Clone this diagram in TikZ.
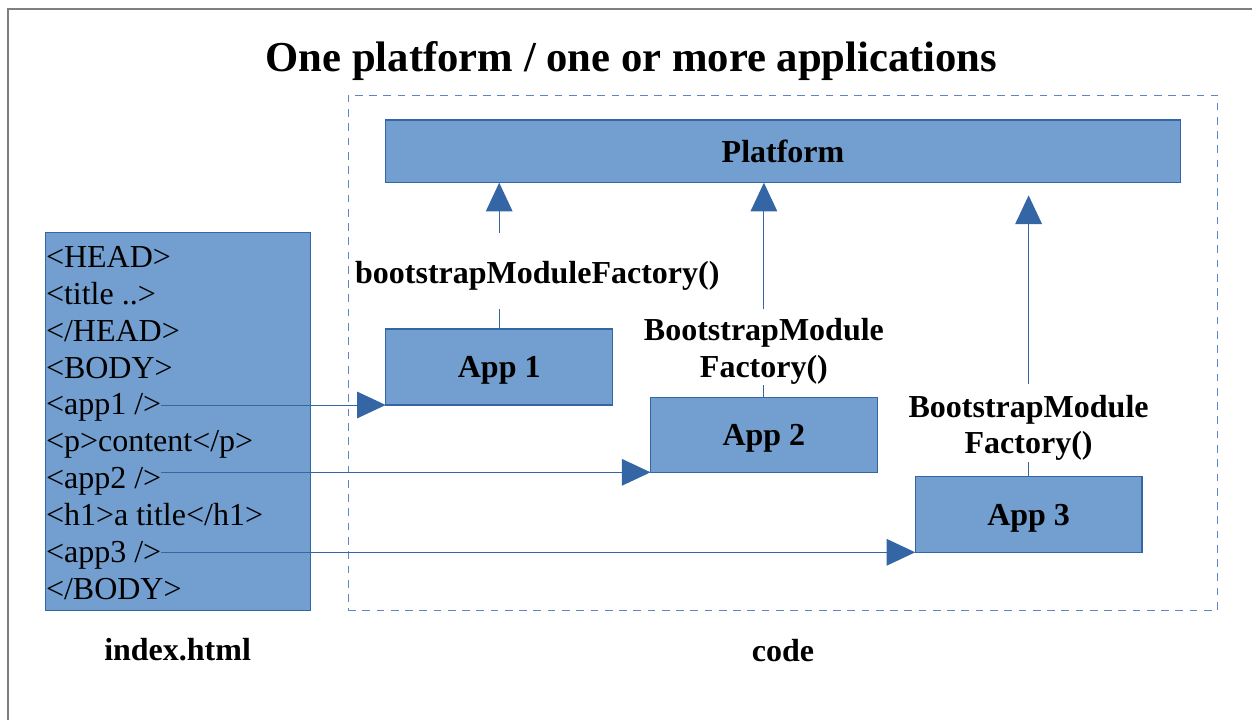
\documentclass[tikz,border=0pt]{standalone}
\usepackage{fontspec}
\setmainfont{Liberation Serif}
\usetikzlibrary{arrows.meta}
\definecolor{boxfill}{HTML}{729FCF}
\definecolor{boxline}{HTML}{3465A4}
\definecolor{dashline}{HTML}{5B87C9}
\definecolor{framegray}{HTML}{7F7F7F}
\begin{document}
\begin{tikzpicture}[x=0.75pt,y=-0.75pt,
  box/.style={draw=boxline,fill=boxfill,line width=0.9pt,inner sep=0pt,outer sep=0pt,
    text depth=0pt,font=\fontsize{24pt}{28pt}\selectfont\bfseries},
  lbl/.style={inner sep=0pt,outer sep=0pt,align=center,
    font=\fontsize{24pt}{27.5pt}\selectfont\bfseries},
  htmlline/.style={anchor=base west,inner sep=0pt,outer sep=0pt,
    font=\fontsize{24pt}{28pt}\selectfont},
  conn/.style={draw=boxline,line width=0.75pt},
  tip/.style={-{Triangle[length=21.5pt,width=20pt]}}]
\useasboundingbox (0,0) rectangle (1252,720);
\begin{scope}
\clip (0,0) rectangle (1252,720);
\draw[framegray,line width=1.5pt] (7.7,9) rectangle (1300,800);
\end{scope}
% title
\node[anchor=base,inner sep=0pt,font=\fontsize{32pt}{36pt}\selectfont\bfseries] (title) at (631.5,71.7) {One platform / one or more applications};
% code container
\node[draw=dashline,dash pattern=on 5.8pt off 4.9pt,line width=0.75pt,
  minimum width=652.1pt,minimum height=386.6pt,inner sep=0pt,outer sep=0pt] (codebox) at (782.75,352.75) {};
% index.html box
\node[draw=boxline,fill=boxfill,line width=0.9pt,minimum width=198.75pt,minimum height=283.6pt,
  inner sep=0pt,outer sep=0pt] (html) at (178,421.6) {};
\node[htmlline] (h1) at (46,267.3) {<HEAD>};
\node[htmlline] (h2) at (46,304.2) {<title ..>};
\node[htmlline] (h3) at (46,341.1) {</HEAD>};
\node[htmlline] (h4) at (46,378.0) {<BODY>};
\node[htmlline] (h5) at (46,414.9) {<app1 />};
\node[htmlline] (h6) at (46,451.8) {<p>content</p>};
\node[htmlline] (h7) at (46,488.7) {<app2 />};
\node[htmlline] (h8) at (46,525.6) {<h1>a title</h1>};
\node[htmlline] (h9) at (46,562.5) {<app3 />};
\node[htmlline] (h10) at (46,599.4) {</BODY>};
% platform and apps
\node[box,minimum width=595.7pt,minimum height=47pt] (platform) at (783,151.4) {Platform};
\node[box,minimum width=170.25pt,minimum height=57pt] (app1) at (499.2,367) {App 1};
\node[box,minimum width=170.1pt,minimum height=56.25pt] (app2) at (763.9,434.8) {App 2};
\node[box,minimum width=170.1pt,minimum height=56.7pt] (app3) at (1028.6,514.5) {App 3};
% labels
\node[lbl,anchor=base] (lbl1) at (537.3,283.3) {bootstrapModuleFactory()};
\node[lbl,anchor=north] (lbl2) at (763.9,318.3) {BootstrapModule\\Factory()};
\node[lbl,anchor=north] (lbl3) at (1028.6,395) {BootstrapModule\\Factory()};
% captions
\node[lbl,anchor=base] (cap1) at (177.6,660) {index.html};
\node[lbl,anchor=base] (cap2) at (783,661) {code};
% vertical connectors
\draw[conn,shorten >=14.3pt] (app1.north) -- (app1.north |- lbl1.south);
\draw[conn,tip,shorten <=21.2pt] (app1.north |- lbl1.north) -- (app1.north |- platform.south);
\draw[conn,shorten >=1pt] (app2.north) -- (lbl2.south);
\draw[conn,tip,shorten <=6.75pt] (lbl2.north) -- (lbl2.north |- platform.south);
\draw[conn,shorten >=1pt] (app3.north) -- (lbl3.south);
\draw[conn,tip,shorten <=8.25pt,shorten >=9.5pt] (lbl3.north) -- (lbl3.north |- platform.south);
% horizontal connectors
\draw[conn,tip] (h5.east |- app1.south west) -- (app1.south west);
\draw[conn,tip] (h7.east |- app2.south west) -- (app2.south west);
\draw[conn,tip] (h9.east |- app3.south west) -- (app3.south west);
\end{tikzpicture}
\end{document}
